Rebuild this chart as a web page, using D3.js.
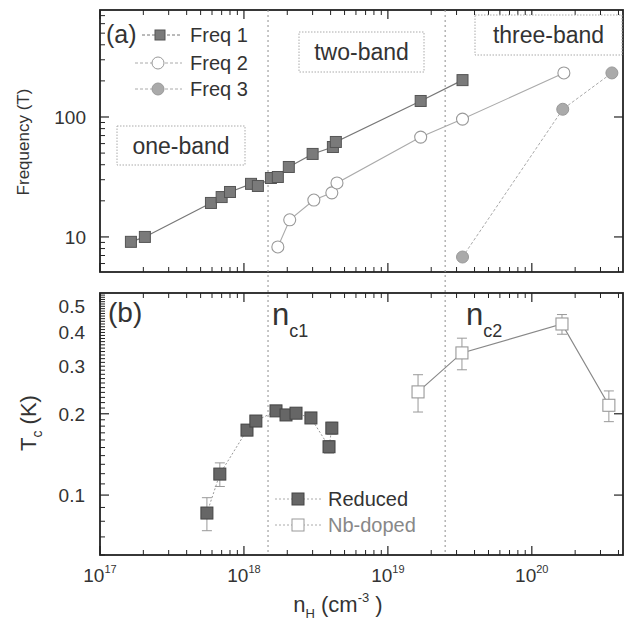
<!DOCTYPE html>
<html>
<head>
<meta charset="utf-8">
<script src="https://cdn.jsdelivr.net/npm/d3@7"></script>
<style>
body { margin: 0; background: #fff; }
svg { font-family: "Liberation Sans", Arial, sans-serif; }
</style>
</head>
<body>
<div id="chart"></div>
<script>
//----------------------------------------------------------------
// données
//----------------------------------------------------------------
var freq1N = [1.64e17, 2.05e17, 5.9e17, 7.0e17, 8.0e17, 1.12e18, 1.25e18, 1.54e18, 1.72e18, 2.05e18, 3.0e18, 4.15e18, 4.35e18, 1.69e19, 3.3e19];
var freq1F = [9.1, 10, 19.2, 21.5, 23.7, 27.7, 26.6, 31, 31.6, 38.3, 49.2, 56.2, 61.9, 136, 203];

var freq2N = [1.72e18, 2.08e18, 3.06e18, 4.08e18, 4.43e18, 1.69e19, 3.3e19, 1.67e20];
var freq2F = [8.25, 13.9, 20.3, 23.3, 28.2, 68, 96, 233];

var freq3N = [3.3e19, 1.64e20, 3.6e20];
var freq3F = [6.8, 116, 233];

var reducedN = [5.53e17, 6.8e17, 1.05e18, 1.21e18, 1.67e18, 1.96e18, 2.3e18, 2.92e18, 3.9e18, 4.08e18];
var reducedTc = [0.0858, 0.1196, 0.174, 0.188, 0.205, 0.198, 0.201, 0.193, 0.151, 0.177];
var reducedErr = [0.012, 0.012, 0.008, 0.008, 0.006, 0.006, 0.006, 0.006, 0.008, 0.009];

var nbN = [1.62e19, 3.27e19, 1.62e20, 3.43e20];
var nbTc = [0.241, 0.336, 0.43, 0.215];
var nbErr = [0.038, 0.045, 0.036, 0.028];

var ncN = [1.47e18, 2.5e19];

var xMajor = [1e17, 1e18, 1e19, 1e20];
var xLabelsExp = ["17", "18", "19", "20"];
var yTopMajor = [10, 100];
var yBotLabels = [0.1, 0.2, 0.3, 0.4, 0.5];

//----------------------------------------------------------------
// svg
//----------------------------------------------------------------
var largeurSvg = 625, hauteurSvg = 622;
var svg = d3.select("#chart").append("svg")
    .attr("width", largeurSvg)
    .attr("height", hauteurSvg);

var gauche = 100, droite = 623;
var haut1 = 10, bas1 = 272, haut2 = 293, bas2 = 555;

var x = d3.scaleLog().domain([1e17, 4.3e20]).range([gauche, droite]);
var yTop = d3.scaleLog().domain([5.1, 780]).range([bas1, haut1]);
var yBot = d3.scaleLog().domain([0.06, 0.56]).range([bas2, haut2]);

function ticksMineurs(d0, d1) {
    var res = [];
    for (var e = Math.floor(Math.log10(d0)); e <= Math.ceil(Math.log10(d1)); e++) {
        for (var k = 2; k <= 9; k++) {
            var v = k * Math.pow(10, e);
            if (v > d0 && v < d1) res.push(v);
        }
    }
    return res;
}

//----------------------------------------------------------------
// cadres et graduations
//----------------------------------------------------------------
function cadre(yScale, haut, bas, yMaj, yMin) {
    var g = svg.append("g");
    var xMin = ticksMineurs(1e17, 4.3e20);

    // bas et haut
    [bas, haut].forEach(function(yy, i) {
        var dir = i === 0 ? -1 : 1;
        g.selectAll(null).data(xMajor).enter().append("line")
            .attr("x1", function(d) { return x(d); }).attr("x2", function(d) { return x(d); })
            .attr("y1", yy).attr("y2", yy + dir * 9)
            .attr("stroke", "#222").attr("stroke-width", 1.2);
        g.selectAll(null).data(xMin).enter().append("line")
            .attr("x1", function(d) { return x(d); }).attr("x2", function(d) { return x(d); })
            .attr("y1", yy).attr("y2", yy + dir * 5)
            .attr("stroke", "#222").attr("stroke-width", 1);
    });
    // gauche et droite
    [gauche, droite].forEach(function(xx, i) {
        var dir = i === 0 ? 1 : -1;
        g.selectAll(null).data(yMaj).enter().append("line")
            .attr("y1", function(d) { return yScale(d); }).attr("y2", function(d) { return yScale(d); })
            .attr("x1", xx).attr("x2", xx + dir * 9)
            .attr("stroke", "#222").attr("stroke-width", 1.2);
        if (i === 0) {
            g.selectAll(null).data(yMin).enter().append("line")
                .attr("y1", function(d) { return yScale(d); }).attr("y2", function(d) { return yScale(d); })
                .attr("x1", xx).attr("x2", xx + dir * 5)
                .attr("stroke", "#222").attr("stroke-width", 1);
        }
    });
    g.append("rect")
        .attr("x", gauche).attr("y", haut)
        .attr("width", droite - gauche).attr("height", bas - haut)
        .attr("fill", "none").attr("stroke", "#222").attr("stroke-width", 1.8);
}

var yTopMin = ticksMineurs(5.1, 780);
cadre(yTop, haut1, bas1, yTopMajor, yTopMin);

var yBotMin = d3.range(6, 56).map(function(k) { return k / 100; })
    .filter(function(v) { return [0.1, 0.2].indexOf(v) < 0; });
cadre(yBot, haut2, bas2, [0.1, 0.2], yBotMin);

// lignes verticales pointillées n_c1, n_c2
svg.selectAll(null).data(ncN).enter().append("line")
    .attr("x1", function(d) { return x(d); }).attr("x2", function(d) { return x(d); })
    .attr("y1", haut1).attr("y2", bas2)
    .attr("stroke", "#999").attr("stroke-width", 1.1)
    .attr("stroke-dasharray", "2,3");

//----------------------------------------------------------------
// étiquettes des axes
//----------------------------------------------------------------
svg.selectAll(null).data(yTopMajor).enter().append("text")
    .attr("x", 86).attr("y", function(d) { return yTop(d) + 7; })
    .attr("text-anchor", "end").attr("font-size", 19).attr("fill", "#333")
    .text(function(d) { return d; });

svg.selectAll(null).data(yBotLabels).enter().append("text")
    .attr("x", 85).attr("y", function(d) { return yBot(d) + 7; })
    .attr("text-anchor", "end").attr("font-size", 19).attr("fill", "#333")
    .text(function(d) { return d; });

var xl = svg.selectAll(null).data(xMajor).enter().append("text")
    .attr("x", function(d) { return x(d); }).attr("y", 582)
    .attr("text-anchor", "middle").attr("font-size", 19).attr("fill", "#333");
xl.append("tspan").text("10");
xl.append("tspan").attr("dy", -9).attr("font-size", 11).text(function(d, i) { return xLabelsExp[i]; });

svg.append("text")
    .attr("transform", "translate(29,142) rotate(-90)")
    .attr("text-anchor", "middle").attr("font-size", 17).attr("fill", "#333")
    .text("Frequency (T)");

var tc = svg.append("text")
    .attr("transform", "translate(36,423) rotate(-90)")
    .attr("text-anchor", "middle").attr("font-size", 22).attr("fill", "#333");
tc.append("tspan").text("T");
tc.append("tspan").attr("dy", 6).attr("font-size", 14).text("c");
tc.append("tspan").attr("dy", -6).text(" (K)");

var nh = svg.append("text")
    .attr("x", 338).attr("y", 612)
    .attr("text-anchor", "middle").attr("font-size", 22).attr("fill", "#333");
nh.append("tspan").text("n");
nh.append("tspan").attr("dy", 6).attr("font-size", 13).text("H");
nh.append("tspan").attr("dy", -6).text(" (cm");
nh.append("tspan").attr("dy", -10).attr("font-size", 13).text("-3");
nh.append("tspan").attr("dy", 10).text(" )");

//----------------------------------------------------------------
// séries
//----------------------------------------------------------------
function paires(a, b) { return a.map(function(v, i) { return [v, b[i]]; }); }

var ligneTop = d3.line().x(function(d) { return x(d[0]); }).y(function(d) { return yTop(d[1]); });
var ligneBot = d3.line().x(function(d) { return x(d[0]); }).y(function(d) { return yBot(d[1]); });

var f1 = paires(freq1N, freq1F), f2 = paires(freq2N, freq2F), f3 = paires(freq3N, freq3F);

svg.append("path").attr("d", ligneTop(f1)).attr("fill", "none").attr("stroke", "#777").attr("stroke-width", 1.2);
svg.append("path").attr("d", ligneTop(f2)).attr("fill", "none").attr("stroke", "#aaa").attr("stroke-width", 1.1);
svg.append("path").attr("d", ligneTop(f3)).attr("fill", "none").attr("stroke", "#aaa").attr("stroke-width", 1)
    .attr("stroke-dasharray", "3,2");

svg.selectAll(null).data(f1).enter().append("rect")
    .attr("x", function(d) { return x(d[0]) - 5.5; }).attr("y", function(d) { return yTop(d[1]) - 5.5; })
    .attr("width", 11).attr("height", 11)
    .attr("fill", "#7a7a7a").attr("stroke", "#555").attr("stroke-width", 1);
svg.selectAll(null).data(f2).enter().append("circle")
    .attr("cx", function(d) { return x(d[0]); }).attr("cy", function(d) { return yTop(d[1]); })
    .attr("r", 6).attr("fill", "#fff").attr("stroke", "#999").attr("stroke-width", 1.1);
svg.selectAll(null).data(f3).enter().append("circle")
    .attr("cx", function(d) { return x(d[0]); }).attr("cy", function(d) { return yTop(d[1]); })
    .attr("r", 6).attr("fill", "#aaa").attr("stroke", "#999").attr("stroke-width", 1);

// Tc
var red = reducedN.map(function(v, i) { return [v, reducedTc[i], reducedErr[i]]; });
var nb = nbN.map(function(v, i) { return [v, nbTc[i], nbErr[i]]; });

function barres(data, coul) {
    var g = svg.append("g").attr("stroke", coul).attr("stroke-width", 1);
    data.forEach(function(d) {
        var cx = x(d[0]);
        var y0 = yBot(d[1] - d[2]), y1 = yBot(d[1] + d[2]);
        g.append("line").attr("x1", cx).attr("x2", cx).attr("y1", y0).attr("y2", y1);
        g.append("line").attr("x1", cx - 5).attr("x2", cx + 5).attr("y1", y0).attr("y2", y0);
        g.append("line").attr("x1", cx - 5).attr("x2", cx + 5).attr("y1", y1).attr("y2", y1);
    });
}

svg.append("path").attr("d", ligneBot(red)).attr("fill", "none").attr("stroke", "#999")
    .attr("stroke-width", 1).attr("stroke-dasharray", "2,2");
svg.append("path").attr("d", ligneBot(nb)).attr("fill", "none").attr("stroke", "#888").attr("stroke-width", 1.2);
barres(red, "#999");
barres(nb, "#999");

svg.selectAll(null).data(red).enter().append("rect")
    .attr("x", function(d) { return x(d[0]) - 6; }).attr("y", function(d) { return yBot(d[1]) - 6; })
    .attr("width", 12).attr("height", 12)
    .attr("fill", "#666").attr("stroke", "#444").attr("stroke-width", 1);
svg.selectAll(null).data(nb).enter().append("rect")
    .attr("x", function(d) { return x(d[0]) - 6; }).attr("y", function(d) { return yBot(d[1]) - 6; })
    .attr("width", 12).attr("height", 12)
    .attr("fill", "#fff").attr("stroke", "#999").attr("stroke-width", 1.1);

//----------------------------------------------------------------
// boîtes de texte et annotations
//----------------------------------------------------------------
var boites = [
    {t: "one-band", x0: 117, y0: 126, x1: 245, y1: 165},
    {t: "two-band", x0: 299, y0: 32, x1: 424, y1: 72},
    {t: "three-band", x0: 475, y0: 15, x1: 622, y1: 55}
];
boites.forEach(function(b) {
    svg.append("rect").attr("x", b.x0).attr("y", b.y0)
        .attr("width", b.x1 - b.x0).attr("height", b.y1 - b.y0)
        .attr("fill", "#fff").attr("stroke", "#aaa").attr("stroke-width", 1)
        .attr("stroke-dasharray", "1.5,1.5");
    svg.append("text").attr("x", (b.x0 + b.x1) / 2).attr("y", (b.y0 + b.y1) / 2 + 8)
        .attr("text-anchor", "middle").attr("font-size", 23).attr("fill", "#333")
        .text(b.t);
});

svg.append("text").attr("x", 106).attr("y", 43).attr("font-size", 25).attr("fill", "#333").text("(a)");
svg.append("text").attr("x", 108).attr("y", 322).attr("font-size", 28).attr("fill", "#333").text("(b)");

function nc(xx, yy, sub) {
    var t = svg.append("text").attr("x", xx).attr("y", yy).attr("font-size", 31).attr("fill", "#333");
    t.append("tspan").text("n");
    t.append("tspan").attr("dy", 12).attr("font-size", 18).text(sub);
}
nc(272, 325, "c1");
nc(466, 325, "c2");

// légende haut
var legTop = [
    {t: "Freq 1", y: 35, forme: "carre", fill: "#7a7a7a", stroke: "#555", ligne: "#777", x0: 142},
    {t: "Freq 2", y: 63, forme: "rond", fill: "#fff", stroke: "#999", ligne: "#aaa", x0: 135},
    {t: "Freq 3", y: 89, forme: "rond", fill: "#aaa", stroke: "#999", ligne: "#aaa", x0: 135}
];
legTop.forEach(function(l) {
    svg.append("line").attr("x1", l.x0).attr("x2", 182).attr("y1", l.y).attr("y2", l.y)
        .attr("stroke", l.ligne).attr("stroke-width", 1).attr("stroke-dasharray", "3,2");
    if (l.forme === "carre") {
        svg.append("rect").attr("x", 155).attr("y", l.y - 5).attr("width", 10).attr("height", 10)
            .attr("fill", l.fill).attr("stroke", l.stroke);
    } else {
        svg.append("circle").attr("cx", 158).attr("cy", l.y).attr("r", 6)
            .attr("fill", l.fill).attr("stroke", l.stroke);
    }
    svg.append("text").attr("x", 190).attr("y", l.y + 7).attr("font-size", 20).attr("fill", "#333").text(l.t);
});

// légende bas
var legBot = [
    {t: "Reduced", y: 499, fill: "#666", stroke: "#444", coul: "#333"},
    {t: "Nb-doped", y: 525, fill: "#fff", stroke: "#999", coul: "#888"}
];
legBot.forEach(function(l) {
    svg.append("line").attr("x1", 275).attr("x2", 322).attr("y1", l.y).attr("y2", l.y)
        .attr("stroke", "#aaa").attr("stroke-width", 1).attr("stroke-dasharray", "2,2");
    svg.append("rect").attr("x", 292).attr("y", l.y - 6).attr("width", 12).attr("height", 12)
        .attr("fill", l.fill).attr("stroke", l.stroke);
    svg.append("text").attr("x", 328).attr("y", l.y + 7).attr("font-size", 20).attr("fill", l.coul).text(l.t);
});
</script>
</body>
</html>
